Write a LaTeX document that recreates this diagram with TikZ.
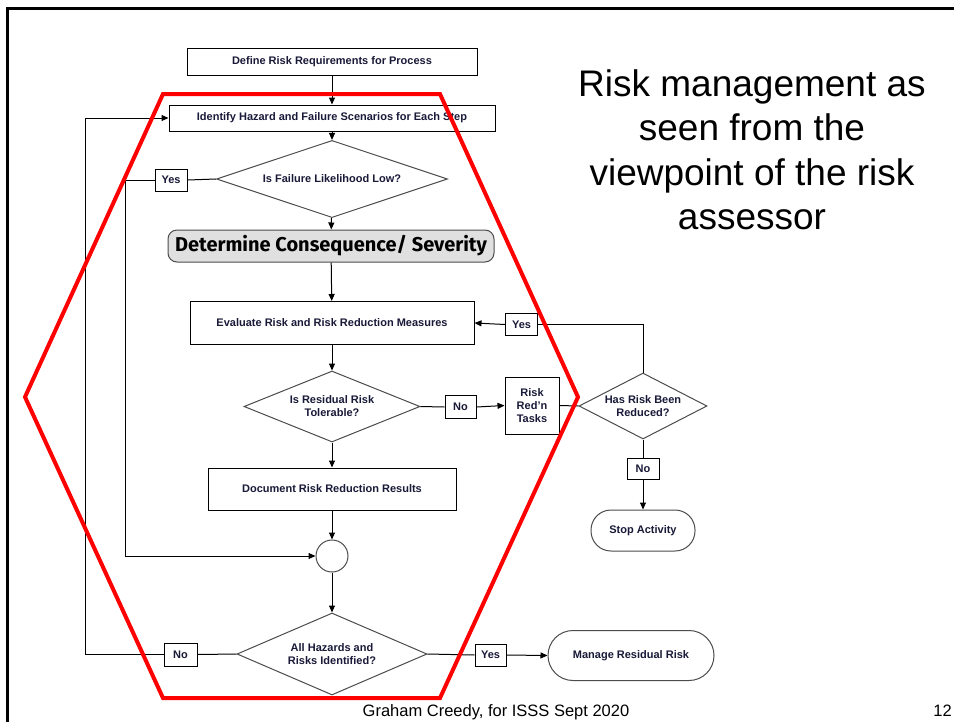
\documentclass[tikz,border=0pt]{standalone}
\usepackage{fontspec}
\setmainfont{Liberation Sans}
\newfontfamily\headfont{Fira Sans}
\usetikzlibrary{shapes.geometric,arrows.meta}
\definecolor{ink}{rgb}{0.10,0.10,0.22}
\definecolor{edgegray}{rgb}{0.30,0.30,0.30}
\definecolor{pill}{rgb}{0.88,0.88,0.88}
\begin{document}
\begin{tikzpicture}[x=1pt,y=-1pt,
  lbl/.style={font=\bfseries\fontsize{11}{13}\selectfont, text=ink, align=center},
  procbox/.style={draw, line width=1pt, lbl, inner sep=0pt},
  tagbox/.style={procbox, minimum width=32pt, minimum height=22pt},
  decision/.style={diamond, draw=edgegray, line width=1pt, lbl, inner sep=0pt, aspect=2},
  terminal/.style={draw=edgegray, line width=1pt, lbl, inner sep=0pt},
  flow/.style={line width=1pt, -{Triangle[length=7pt,width=6pt]}},
  link/.style={line width=1pt},
  frame/.style={line width=3pt, line cap=rect},
  hexline/.style={draw=red, line width=4pt, line join=miter}
]
\useasboundingbox (0,0) rectangle (954,721);
\fill[white] (0,0) rectangle (954,721);

% slide frame
\draw[frame] (7,723) -- (7,8) -- (956,8);

% process steps
\node[procbox, minimum width=290pt, minimum height=27pt] (define) at (332,61.5) {Define Risk Requirements for Process};
\node[procbox, minimum width=326pt, minimum height=26pt] (identify) at (332,118) {Identify Hazard and Failure Scenarios for Each Step};
\node[decision, minimum width=231pt, minimum height=41pt] (likely) at (332,179) {Is Failure Likelihood Low?};
\node[tagbox] (yesA) at (171,180) {Yes};
\node[draw=edgegray, line width=1pt, fill=pill, rounded corners=9pt, minimum width=326pt, minimum height=32pt, inner sep=0pt,
      font=\headfont\bfseries\fontsize{20}{22}\selectfont] (severity) at (331,246) {Determine Consequence/ Severity};
\node[procbox, minimum width=284pt, minimum height=43pt] (evaluate) at (332,323) {Evaluate Risk and Risk Reduction Measures};
\node[tagbox] (yesB) at (521.5,324.5) {Yes};
\node[decision, minimum width=176pt, minimum height=71pt] (tolerable) at (332,406.5) {Is Residual Risk\\Tolerable?};
\node[tagbox, minimum width=31pt, minimum height=23pt] (noA) at (460.5,407) {No};
\node[procbox, minimum width=54pt, minimum height=57pt] (tasks) at (532,405.5) {Risk\\Red'n\\Tasks};
\node[decision, minimum width=128pt, minimum height=66pt] (reduced) at (643,406) {Has Risk Been\\Reduced?};
\node[tagbox, minimum width=32pt, minimum height=21pt] (noB) at (643,468.5) {No};
\node[terminal, minimum width=104pt, minimum height=41pt, rounded corners=20pt] (stop) at (643,530.5) {Stop Activity};
\node[procbox, minimum width=248pt, minimum height=42pt] (document) at (332,489) {Document Risk Reduction Results};
\node[circle, draw=edgegray, line width=1pt, minimum size=32pt, inner sep=0pt] (merge) at (332,556) {};
\node[decision, minimum width=190pt, minimum height=82pt] (complete) at (332,654) {All Hazards and\\Risks Identified?};
\node[tagbox, minimum width=33pt, minimum height=23pt] (noC) at (180.5,654.5) {No};
\node[tagbox, minimum width=31pt, minimum height=22pt] (yesC) at (490.5,655) {Yes};
\node[terminal, minimum width=166pt, minimum height=50pt, rounded corners=25pt] (manage) at (631,655.5) {Manage Residual Risk};

% turning points of the loops
\coordinate (lowL) at (125,180);
\coordinate (lowB) at (125,556);
\coordinate (backB) at (85,654.5);
\coordinate (backT) at (85,118);
\coordinate (redT) at (643,324.5);

% connectors
\draw[flow] (define) -- (identify);
\draw[flow] (identify) -- (likely);
\draw[flow] (likely) -- (severity);
\draw[flow] (severity) -- (evaluate);
\draw[flow] (evaluate) -- (tolerable);
\draw[flow] (tolerable) -- (document);
\draw[flow] (document) -- (merge);
\draw[flow] (merge) -- (complete);

\draw[link] (likely.west) -- (yesA.east);
\draw[flow] (yesA.west) -- (lowL) -- (lowB) -- (merge.west);

\draw[link] (tolerable.east) -- (noA.west);
\draw[flow] (noA.east) -- (tasks.west);
\draw[link] (tasks.east) -- (reduced.west);

\draw[link] (reduced.north) -- (redT) -- (yesB.east);
\draw[flow] (yesB.west) -- (evaluate.east);

\draw[link] (reduced.south) -- (noB.north);
\draw[flow] (noB.south) -- (stop.north);

\draw[link] (complete.west) -- (noC.east);
\draw[flow] (noC.west) -- (backB) -- (backT) -- (identify.west);

\draw[link] (complete.east) -- (yesC.west);
\draw[flow] (yesC.east) -- (manage.west);

% the assessor's scope
\draw[hexline] (163,94) -- (440,94) -- (578,397) -- (440,698) -- (163,698) -- (25,397) -- cycle;

% heading and footer
\node[font=\fontsize{37}{44.5}\selectfont, align=center] (title) at (752,150) {Risk management as\\seen from the\\viewpoint of the risk\\assessor};
\node[font=\fontsize{16.5}{19}\selectfont, anchor=base] (footer) at (496,716) {Graham Creedy, for ISSS Sept 2020};
\node[font=\fontsize{16.5}{19}\selectfont, anchor=base east, inner sep=0pt] (pageno) at (952,716) {12};
\end{tikzpicture}
\end{document}
